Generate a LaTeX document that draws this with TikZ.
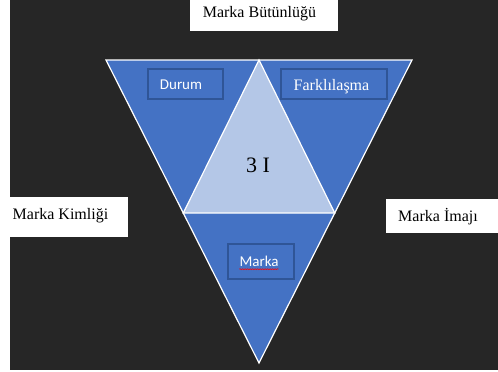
\documentclass[tikz,border=0pt]{standalone}
\usepackage{fontspec}
\setmainfont{Liberation Serif}
\newfontfamily\calibri{Carlito}
\usetikzlibrary{calc}
\usetikzlibrary{positioning}
\usetikzlibrary{decorations.pathmorphing}
\definecolor{slide}{HTML}{262626}
\definecolor{triblue}{HTML}{4472C4}
\definecolor{trilight}{HTML}{B4C7E7}
\definecolor{boxedge}{HTML}{2F5597}

\begin{document}
\begin{tikzpicture}[x=1pt,y=-1pt,
    tri/.style={fill=triblue, draw=white, line width=1.2pt},
    innertri/.style={fill=trilight, draw=white, line width=1.2pt},
    bluebox/.style={draw=boxedge, line width=1.5pt, fill=triblue, inner sep=0pt},
    whitebox/.style={fill=white, inner sep=0pt},
    serif/.style={font=\fontsize{16}{18}\selectfont, inner sep=0pt, anchor=base},
    sans/.style={font=\calibri\fontsize{15}{17}\selectfont, text=white, inner sep=0pt, anchor=base},
    squiggle/.style={draw=red, line width=0.5pt, decorate, decoration={snake, amplitude=0.6pt, segment length=2.5pt}}]

    \useasboundingbox (0,0) rectangle (498,372);
    \fill[slide] (10,0) rectangle (498,370);

    % corners of the big triangle
    \coordinate (tl) at (106,60);
    \coordinate (tr) at (412,60);
    \coordinate (tb) at (259,363);
    \coordinate (ta) at (259,60);
    \coordinate (bl) at ($(tl)!0.505!(tb)$);
    \coordinate (br) at ($(tr)!0.505!(tb)$);

    \draw[tri] (tl) -- (tr) -- (tb) -- cycle;
    \draw[innertri] (ta) -- (br) -- (bl) -- cycle;

    \node[bluebox, minimum width=75pt, minimum height=30pt] (durum) at (185.5,84) {};
    \node[sans] (durumtext) at (181,89.5) {Durum};

    \node[bluebox, minimum width=106pt, minimum height=30pt] (fark) at (334,84) {};
    \node[serif, text=white] (farktext) at (331.5,90.7) {Farklılaşma};

    \node[serif, font=\fontsize{22}{24}\selectfont] (three) at (258,172) {3 I};

    \node[bluebox, minimum width=66pt, minimum height=35pt] (marka) at (261,261.5) {};
    \node[sans] (markatext) at (259,266.7) {Marka};
    \draw[squiggle] ($(markatext.base west)+(0,2.5)$) -- ($(markatext.base east)+(0,2.5)$);

    % white label boxes
    \node[whitebox, minimum width=148pt, minimum height=31pt, anchor=north west] (butun) at (190,0) {};
    \node[serif] (butuntext) at (259.5,17.7) {Marka Bütünlüğü};

    \node[whitebox, minimum width=128pt, minimum height=40pt, anchor=north west] (kimlik) at (0,197) {};
    \node[serif] (kimliktext) at (60.5,219) {Marka Kimliği};

    \node[whitebox, minimum width=112pt, minimum height=34pt, anchor=north west] (imaj) at (386,199) {};
    \node[serif] (imajtext) at (438,221.7) {Marka İmajı};
\end{tikzpicture}
\end{document}
